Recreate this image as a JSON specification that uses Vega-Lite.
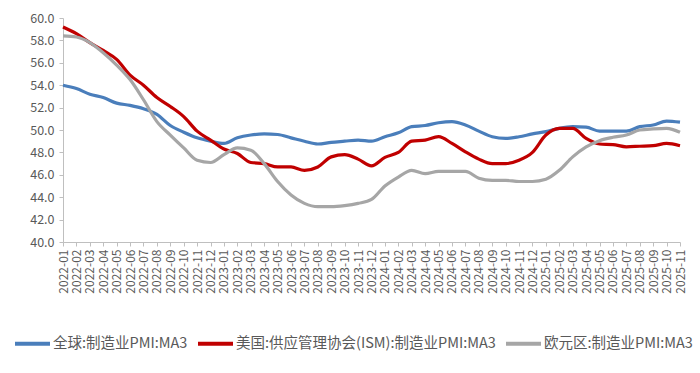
{
  "$schema": "https://vega.github.io/schema/vega-lite/v6.json",
  "autosize": {"type": "none"},
  "width": 617,
  "height": 224,
  "padding": {"left": 63, "top": 18, "right": 20, "bottom": 131},
  "background": "white",
  "config": {
    "font": "Noto Sans CJK SC",
    "view": {"stroke": null}
  },
  "data": {
    "values": [
      {"m": "2022-01", "g": 54.0, "u": 59.2, "e": 58.4},
      {"m": "2022-02", "g": 53.7, "u": 58.6, "e": 58.3},
      {"m": "2022-03", "g": 53.2, "u": 57.8, "e": 57.8},
      {"m": "2022-04", "g": 52.9, "u": 57.1, "e": 56.9},
      {"m": "2022-05", "g": 52.4, "u": 56.3, "e": 55.8},
      {"m": "2022-06", "g": 52.2, "u": 54.9, "e": 54.5},
      {"m": "2022-07", "g": 51.9, "u": 54.0, "e": 52.7},
      {"m": "2022-08", "g": 51.4, "u": 52.9, "e": 50.75},
      {"m": "2022-09", "g": 50.4, "u": 52.1, "e": 49.55},
      {"m": "2022-10", "g": 49.8, "u": 51.2, "e": 48.4},
      {"m": "2022-11", "g": 49.3, "u": 49.9, "e": 47.3},
      {"m": "2022-12", "g": 49.0, "u": 49.1, "e": 47.1},
      {"m": "2023-01", "g": 48.8, "u": 48.3, "e": 47.8},
      {"m": "2023-02", "g": 49.3, "u": 47.9, "e": 48.4},
      {"m": "2023-03", "g": 49.55, "u": 47.1, "e": 48.2},
      {"m": "2023-04", "g": 49.65, "u": 47.0, "e": 47.0},
      {"m": "2023-05", "g": 49.6, "u": 46.7, "e": 45.4},
      {"m": "2023-06", "g": 49.3, "u": 46.7, "e": 44.2},
      {"m": "2023-07", "g": 49.0, "u": 46.4, "e": 43.45},
      {"m": "2023-08", "g": 48.75, "u": 46.7, "e": 43.15},
      {"m": "2023-09", "g": 48.9, "u": 47.6, "e": 43.15},
      {"m": "2023-10", "g": 49.0, "u": 47.8, "e": 43.25},
      {"m": "2023-11", "g": 49.1, "u": 47.4, "e": 43.45},
      {"m": "2023-12", "g": 49.0, "u": 46.8, "e": 43.8},
      {"m": "2024-01", "g": 49.4, "u": 47.55, "e": 45.0},
      {"m": "2024-02", "g": 49.75, "u": 48.0, "e": 45.8},
      {"m": "2024-03", "g": 50.3, "u": 49.0, "e": 46.4},
      {"m": "2024-04", "g": 50.4, "u": 49.1, "e": 46.1},
      {"m": "2024-05", "g": 50.65, "u": 49.4, "e": 46.3},
      {"m": "2024-06", "g": 50.75, "u": 48.8, "e": 46.3},
      {"m": "2024-07", "g": 50.45, "u": 48.05, "e": 46.3},
      {"m": "2024-08", "g": 49.9, "u": 47.4, "e": 45.7},
      {"m": "2024-09", "g": 49.4, "u": 47.0, "e": 45.5},
      {"m": "2024-10", "g": 49.25, "u": 47.0, "e": 45.5},
      {"m": "2024-11", "g": 49.4, "u": 47.3, "e": 45.4},
      {"m": "2024-12", "g": 49.65, "u": 48.0, "e": 45.4},
      {"m": "2025-01", "g": 49.85, "u": 49.55, "e": 45.6},
      {"m": "2025-02", "g": 50.15, "u": 50.15, "e": 46.4},
      {"m": "2025-03", "g": 50.3, "u": 50.15, "e": 47.6},
      {"m": "2025-04", "g": 50.25, "u": 49.25, "e": 48.5},
      {"m": "2025-05", "g": 49.9, "u": 48.75, "e": 49.05},
      {"m": "2025-06", "g": 49.9, "u": 48.7, "e": 49.35},
      {"m": "2025-07", "g": 49.9, "u": 48.5, "e": 49.55},
      {"m": "2025-08", "g": 50.3, "u": 48.55, "e": 50.0},
      {"m": "2025-09", "g": 50.45, "u": 48.6, "e": 50.1},
      {"m": "2025-10", "g": 50.8, "u": 48.8, "e": 50.15},
      {"m": "2025-11", "g": 50.7, "u": 48.6, "e": 49.8}
    ]
  },
  "transform": [
    {"fold": ["g", "u", "e"], "as": ["key", "value"]},
    {"lookup": "key", "from": {"data": {"values": [
      {"key": "g", "name": "全球:制造业PMI:MA3"},
      {"key": "u", "name": "美国:供应管理协会(ISM):制造业PMI:MA3"},
      {"key": "e", "name": "欧元区:制造业PMI:MA3"}
    ]}, "key": "key", "fields": ["name"]}}
  ],
  "mark": {"type": "line", "strokeWidth": 3.2, "interpolate": "monotone"},
  "encoding": {
    "x": {
      "field": "m", "type": "ordinal", "title": null,
      "scale": {"type": "point", "padding": 0},
      "axis": {
        "labelAngle": -90, "labelFontSize": 12, "labelColor": "#595959",
        "domainColor": "#BFBFBF", "tickColor": "#BFBFBF", "tickSize": 4,
        "labelPadding": 3, "grid": false
      }
    },
    "y": {
      "field": "value", "type": "quantitative", "title": null,
      "scale": {"domain": [40, 60], "nice": false, "zero": false},
      "axis": {
        "values": [40, 42, 44, 46, 48, 50, 52, 54, 56, 58, 60],
        "format": ".1f", "labelFontSize": 12.5, "labelColor": "#595959",
        "domainColor": "#BFBFBF", "tickColor": "#BFBFBF", "tickSize": 4,
        "labelPadding": 5, "grid": false
      }
    },
    "color": {
      "field": "name", "type": "nominal",
      "sort": ["全球:制造业PMI:MA3", "美国:供应管理协会(ISM):制造业PMI:MA3", "欧元区:制造业PMI:MA3"],
      "scale": {
        "domain": ["全球:制造业PMI:MA3", "美国:供应管理协会(ISM):制造业PMI:MA3", "欧元区:制造业PMI:MA3"],
        "range": ["#4A7EBB", "#C00000", "#A6A6A6"]
      },
      "legend": {
        "title": null, "orient": "none", "direction": "horizontal",
        "legendX": -50, "legendY": 306,
        "symbolType": "stroke", "symbolSize": 1225, "symbolStrokeWidth": 4,
        "labelFontSize": 14.5, "labelColor": "#595959", "labelOffset": 1,
        "labelLimit": 500, "columnPadding": 2
      }
    }
  }
}
